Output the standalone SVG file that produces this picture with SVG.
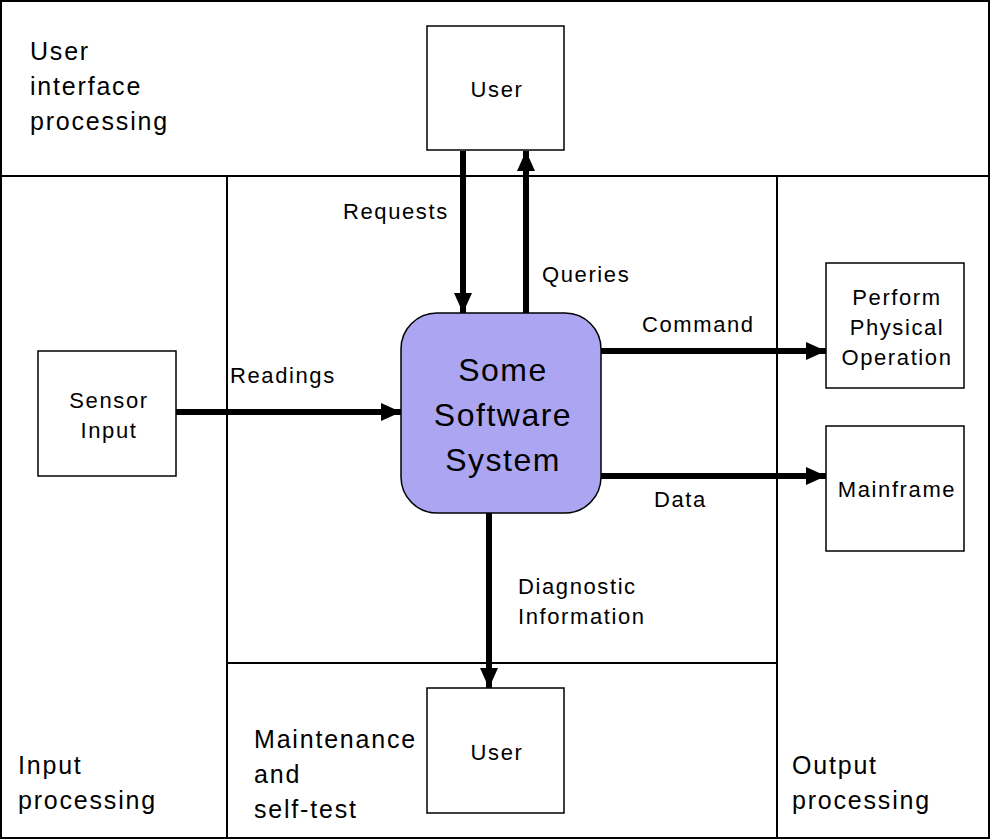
<svg xmlns="http://www.w3.org/2000/svg" width="990" height="840" viewBox="0 0 990 840">
<defs>
<style>
.frame{fill:none;stroke:#000;stroke-width:2}
.box{fill:#fff;stroke:#000;stroke-width:1.5}
.big{font-family:"Liberation Sans",Arial,sans-serif;font-size:25px;letter-spacing:1.8px;fill:#000}
.lbl{font-family:"Liberation Sans",Arial,sans-serif;font-size:22px;letter-spacing:1.6px;fill:#000}
.sys{font-family:"Liberation Sans",Arial,sans-serif;font-size:32px;letter-spacing:1.5px;fill:#000}
.ctr{text-anchor:middle}
.arr{stroke:#000;stroke-width:6;fill:none}
</style>
<marker id="ah" markerUnits="userSpaceOnUse" markerWidth="20" markerHeight="20" viewBox="0 0 20 20" refX="20" refY="10" orient="auto">
<path d="M0,1 L20,10 L0,19 Z" fill="#000"/>
</marker>
</defs>
<rect x="0" y="0" width="990" height="840" fill="#fff"/>
<g id="regions">
<rect class="frame" x="1" y="1" width="988" height="837"/>
<line class="frame" x1="1" y1="176" x2="989" y2="176"/>
<line class="frame" x1="227" y1="176" x2="227" y2="838"/>
<line class="frame" x1="777" y1="176" x2="777" y2="838"/>
<line class="frame" x1="227" y1="663" x2="777" y2="663"/>
<text class="big" x="30" y="60">User</text>
<text class="big" x="30" y="95">interface</text>
<text class="big" x="30" y="130">processing</text>
<text class="big" x="18" y="774">Input</text>
<text class="big" x="18" y="809">processing</text>
<text class="big" x="254" y="748">Maintenance</text>
<text class="big" x="254" y="783">and</text>
<text class="big" x="254" y="818">self-test</text>
<text class="big" x="792" y="774">Output</text>
<text class="big" x="792" y="809">processing</text>
</g>
<g id="connectors">
<line class="arr" x1="463" y1="151" x2="463" y2="313" marker-end="url(#ah)"/>
<line class="arr" x1="526" y1="313" x2="526" y2="151" marker-end="url(#ah)"/>
<line class="arr" x1="176" y1="412" x2="401" y2="412" marker-end="url(#ah)"/>
<line class="arr" x1="601" y1="351" x2="826" y2="351" marker-end="url(#ah)"/>
<line class="arr" x1="601" y1="476" x2="826" y2="476" marker-end="url(#ah)"/>
<line class="arr" x1="489" y1="513" x2="489" y2="688" marker-end="url(#ah)"/>
<text class="lbl" x="343" y="219">Requests</text>
<text class="lbl" x="542" y="282">Queries</text>
<text class="lbl" x="642" y="332">Command</text>
<text class="lbl" x="230" y="383">Readings</text>
<text class="lbl" x="654" y="507">Data</text>
<text class="lbl" x="518" y="594">Diagnostic</text>
<text class="lbl" x="518" y="624">Information</text>
</g>
<g id="user-top">
<rect class="box" x="427" y="26" width="137" height="124"/>
<text class="lbl ctr" x="497" y="97">User</text>
</g>
<g id="user-bottom">
<rect class="box" x="427" y="688" width="137" height="125"/>
<text class="lbl ctr" x="497" y="760">User</text>
</g>
<g id="sensor-input">
<rect class="box" x="38" y="351" width="138" height="125"/>
<text class="lbl ctr" x="109" y="408">Sensor</text>
<text class="lbl ctr" x="109" y="438">Input</text>
</g>
<g id="perform">
<rect class="box" x="826" y="263" width="138" height="125"/>
<text class="lbl ctr" x="897" y="305">Perform</text>
<text class="lbl ctr" x="897" y="335">Physical</text>
<text class="lbl ctr" x="897" y="365">Operation</text>
</g>
<g id="mainframe">
<rect class="box" x="826" y="426" width="138" height="125"/>
<text class="lbl ctr" x="897" y="497">Mainframe</text>
</g>
<g id="system">
<rect x="401" y="313" width="200" height="200" rx="36" ry="36" fill="#aca6f2" stroke="#000" stroke-width="1.5"/>
<text class="sys ctr" x="503" y="381">Some</text>
<text class="sys ctr" x="503" y="426">Software</text>
<text class="sys ctr" x="503" y="471">System</text>
</g>
</svg>
